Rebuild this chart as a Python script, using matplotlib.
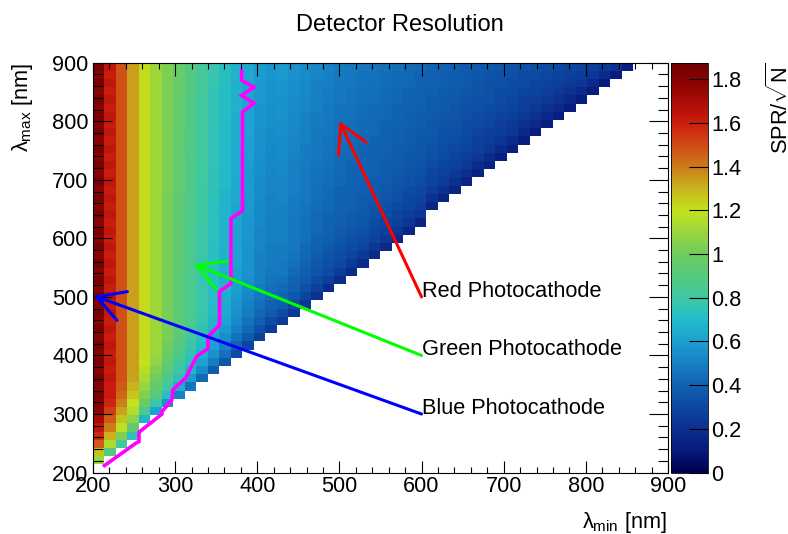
import numpy as np
import matplotlib
matplotlib.use('Agg')
import matplotlib.pyplot as plt
from matplotlib.colors import LinearSegmentedColormap
from matplotlib.ticker import MultipleLocator, FuncFormatter

plt.rcParams['font.family'] = ['Liberation Sans', 'DejaVu Sans']
plt.rcParams['mathtext.fontset'] = 'custom'
plt.rcParams['mathtext.rm'] = 'Liberation Sans'
plt.rcParams['mathtext.it'] = 'Liberation Sans'
plt.rcParams['mathtext.bf'] = 'Liberation Sans:bold'

# Binning (nm): 50 x 50 bins of 14 nm between 200 and 900
bin_edges = np.arange(200, 901, 14)

# SPR/sqrt(N) x 100, one list per lambda_min bin, from the top row (lambda_max = 900) down to the diagonal
spr_columns = [
    [184, 179, 184, 179, 184, 179, 184, 179, 184, 179, 184, 179, 184, 179, 184, 179, 184, 179, 184, 179, 184,
     179, 184, 179, 184, 179, 184, 179, 184, 179, 184, 179, 184, 179, 184, 179, 184, 179, 184, 179, 184,
     180, 177, 171, 164, 157, 146, 127, 110],
    [164, 161, 164, 161, 164, 161, 164, 161, 164, 161, 164, 161, 164, 161, 164, 161, 164, 161, 164, 161,
     164, 161, 164, 161, 164, 161, 164, 161, 164, 161, 164, 161, 164, 161, 164, 161, 164, 161, 164, 161,
     161, 158, 153, 147, 140, 130, 114, 90],
    [148, 148, 148, 148, 148, 148, 148, 148, 148, 148, 148, 148, 148, 148, 148, 148, 148, 148, 148, 148,
     148, 148, 148, 148, 148, 148, 148, 148, 148, 148, 148, 148, 148, 148, 148, 148, 148, 148, 148,
     147, 144, 139, 133, 127, 118, 104, 81],
    [134, 134, 134, 134, 134, 134, 134, 134, 134, 134, 134, 134, 134, 134, 134, 134, 134, 134, 134, 134,
     134, 134, 134, 134, 134, 134, 134, 134, 134, 134, 134, 134, 134, 134, 134, 134, 134, 134,
     133, 130, 126, 120, 115, 107, 94, 74],
    [121, 121, 121, 121, 121, 121, 121, 121, 121, 121, 121, 121, 121, 121, 121, 121, 121, 121, 121, 121,
     121, 121, 121, 121, 121, 121, 121, 121, 121, 121, 121, 121, 121, 121, 121, 121,
     120, 117, 114, 109, 104, 97, 85, 67],
    [111, 111, 111, 111, 111, 111, 111, 111, 111, 111, 111, 111, 111, 111, 111, 111, 111, 111, 111, 111,
     111, 111, 111, 111, 111, 111, 111, 111, 111, 111, 111, 111, 111, 111, 111,
     110, 108, 104, 100, 95, 89, 78, 61],
    [103, 103, 103, 103, 103, 103, 103, 103, 103, 103, 103, 103, 103, 103, 103, 103,
     102, 102, 102, 102, 102, 102, 102, 102, 102, 102, 102, 102, 102, 102, 102, 102, 102, 102,
     100, 98, 95, 91, 87, 81, 71, 56],
    [96, 96, 96, 96, 96, 96, 96, 96, 95, 95, 95, 95, 95, 95, 95, 95, 94, 94, 94, 94, 94, 94, 94, 94, 94,
     93, 93, 93, 93, 93, 93, 93, 93, 92, 90, 87, 83, 79, 74, 65, 51],
    [89, 89, 89, 89, 88, 88, 88, 88, 88, 88, 88, 87, 87, 87, 87, 87, 87, 87, 87, 86, 86, 86, 86, 86, 86, 86,
     85, 85, 85, 85, 85, 85, 84, 82, 79, 76, 72, 67, 59, 46],
    [83, 83, 83, 82, 82, 82, 82, 82, 82, 81, 81, 81, 81, 81, 81, 80, 80, 80, 80, 80, 79, 79, 79, 79, 79, 79,
     78, 78, 78, 78, 78, 77, 75, 73, 69, 66, 61, 54, 42],
    [77, 77, 77, 76, 76, 76, 76, 76, 75, 75, 75, 75, 75, 74, 74, 74, 74, 73, 73, 73, 73, 73, 72, 72, 72, 72,
     72, 71, 71, 71, 70, 68, 66, 63, 60, 56, 49, 38],
    [72, 72, 72, 71, 71, 71, 71, 70, 70, 70, 70, 69, 69, 69, 69, 68, 68, 68, 68, 67, 67, 67, 67, 66, 66, 66,
     66, 66, 65, 64, 63, 61, 58, 55, 51, 45, 35],
    [67, 67, 66, 66, 66, 66, 65, 65, 65, 65, 64, 64, 64, 64, 63, 63, 63, 62, 62, 62, 62, 61, 61, 61, 61, 60,
     60, 60, 59, 57, 55, 53, 50, 46, 41, 32],
    [63, 63, 62, 62, 62, 62, 61, 61, 61, 60, 60, 60, 59, 59, 59, 59, 58, 58, 58, 57, 57, 57, 56, 56, 56, 56,
     55, 54, 53, 51, 49, 46, 43, 37, 29],
    [59, 59, 58, 58, 58, 57, 57, 57, 56, 56, 56, 55, 55, 55, 54, 54, 54, 53, 53, 53, 52, 52, 52, 51, 51, 51,
     50, 49, 47, 45, 42, 39, 34, 27],
    [57, 57, 56, 56, 56, 55, 55, 55, 54, 54, 53, 53, 53, 52, 52, 52, 51, 51, 51, 50, 50, 50, 49, 49, 49,
     48, 46, 45, 42, 40, 37, 32, 25],
    [58, 58, 57, 57, 56, 56, 56, 55, 55, 54, 54, 54, 53, 53, 52, 52, 52, 51, 51, 50, 50, 50, 49, 49,
     48, 47, 45, 43, 41, 38, 32, 25],
    [56, 56, 55, 55, 54, 54, 53, 53, 53, 52, 52, 51, 51, 50, 50, 50, 49, 49, 48, 48, 47, 47, 47,
     46, 45, 43, 41, 39, 36, 30, 23],
    [54, 54, 53, 53, 52, 52, 51, 51, 50, 50, 49, 49, 49, 48, 48, 47, 47, 46, 46, 45, 45, 45,
     43, 42, 41, 39, 37, 34, 29, 22],
    [52, 52, 51, 51, 50, 50, 49, 49, 48, 48, 47, 47, 46, 46, 45, 45, 44, 44, 43, 43, 43,
     41, 40, 38, 36, 35, 32, 27, 20],
    [51, 50, 50, 49, 49, 48, 48, 47, 47, 46, 46, 45, 45, 44, 44, 43, 43, 42, 41, 41,
     40, 39, 37, 35, 33, 31, 26, 19],
    [49, 48, 48, 47, 47, 46, 46, 45, 45, 44, 44, 43, 43, 42, 42, 41, 40, 40, 39,
     39, 37, 36, 34, 32, 30, 25, 19],
    [48, 47, 47, 46, 46, 45, 45, 44, 44, 43, 43, 42, 41, 41, 40, 40, 39, 39,
     38, 37, 35, 33, 31, 29, 24, 18],
    [47, 46, 46, 45, 45, 44, 44, 43, 43, 42, 41, 41, 40, 40, 39, 39, 38,
     37, 36, 35, 33, 31, 29, 24, 18],
    [46, 45, 45, 44, 44, 43, 43, 42, 42, 41, 40, 40, 39, 39, 38, 38,
     37, 35, 34, 32, 30, 28, 23, 18],
    [45, 44, 44, 43, 43, 42, 42, 41, 40, 40, 39, 39, 38, 38, 37,
     36, 35, 33, 32, 30, 27, 23, 17],
    [44, 43, 43, 42, 42, 41, 41, 40, 39, 39, 38, 38, 37, 36,
     35, 34, 33, 31, 29, 27, 23, 17],
    [43, 42, 42, 41, 41, 40, 39, 39, 38, 38, 37, 36, 36,
     35, 34, 32, 30, 29, 26, 22, 16],
    [42, 41, 41, 40, 40, 39, 38, 38, 37, 36, 36, 35,
     34, 33, 32, 30, 28, 26, 22, 16],
    [41, 40, 40, 39, 38, 38, 37, 36, 36, 35, 34, 33, 31, 29, 28, 25, 21, 16],
    [40, 39, 39, 38, 37, 37, 36, 35, 34, 33, 32, 31, 29, 27, 25, 21, 15],
    [39, 38, 38, 37, 36, 35, 35, 34, 33, 32, 30, 28, 27, 24, 20, 15],
    [38, 37, 37, 36, 35, 34, 34, 32, 31, 30, 28, 26, 24, 20, 14],
    [37, 36, 35, 35, 34, 33, 32, 31, 29, 27, 26, 23, 19, 14],
    [36, 35, 34, 34, 33, 32, 30, 29, 27, 25, 23, 19, 14],
    [35, 34, 33, 32, 31, 30, 28, 26, 25, 22, 18, 13],
    [34, 33, 32, 31, 29, 28, 26, 24, 22, 18, 13],
    [33, 32, 31, 29, 27, 26, 24, 21, 17, 13],
    [32, 31, 29, 28, 26, 24, 21, 17, 12],
    [32, 30, 28, 26, 24, 21, 17, 12],
    [31, 28, 26, 24, 21, 17, 12],
    [29, 27, 24, 21, 17, 12],
    [28, 25, 22, 17, 12],
    [26, 22, 17, 11],
    [24, 18, 11],
    [20, 11],
    [13],
]

# Magenta boundary line (nm)
boundary_min = [214, 253, 256, 256, 284, 284, 296, 297, 313, 326, 340, 340, 354, 354, 368, 368,
                382, 382, 396, 381, 396, 381, 381]
boundary_max = [212, 251, 253, 269, 300, 304, 324, 341, 362, 398, 412, 432, 452, 509, 523, 634,
                647, 816, 831, 844, 858, 870, 886]

# Photocathode arrows: label anchor (tail) and tip, in nm
cathode_names = ['Red Photocathode', 'Green Photocathode', 'Blue Photocathode']
cathode_colors = ['#ff0000', '#00ff00', '#0000ff']
cathode_tail = [(600, 500), (600, 400), (600, 300)]
cathode_tip = [(500, 800), (323, 556), (201, 502)]

# Palette
palette = [(0.00, '#000050'), (0.10, '#061a7c'), (0.20, '#0c3090'), (0.30, '#0c48a2'),
           (0.40, '#1062b2'), (0.50, '#1680c4'), (0.60, '#1ca0d2'), (0.70, '#24bcc8'),
           (0.80, '#3ec8a2'), (0.90, '#56c97e'), (1.00, '#70cc5c'), (1.10, '#9ad63e'),
           (1.20, '#c4e21c'), (1.30, '#c8b41e'), (1.40, '#cc7c1a'), (1.50, '#d04a14'),
           (1.60, '#cc1e0e'), (1.70, '#aa0c06'), (1.80, '#860202'), (1.875, '#700000')]
zmax = 1.875

################################################################

nb = len(bin_edges) - 1
grid = np.full((nb, nb), np.nan)
for ix, col in enumerate(spr_columns):
    for p, v in enumerate(col):
        grid[nb - 1 - p, ix] = v / 100.
grid = np.ma.masked_invalid(grid)

cmap = LinearSegmentedColormap.from_list('root', [(v / zmax, c) for v, c in palette], N=256)

fig = plt.figure(figsize=(7.88, 5.34), dpi=100)
ax = fig.add_axes([0.1180, 0.1150, 0.7297, 0.7676])
cax = fig.add_axes([0.8511, 0.1150, 0.0477, 0.7676])

mesh = ax.pcolormesh(bin_edges, bin_edges, grid, cmap=cmap, vmin=0, vmax=zmax,
                     shading='flat', antialiased=False, edgecolors='none')

ax.plot(boundary_min, boundary_max, color='#ff00ff', lw=2.6, solid_joinstyle='miter', zorder=3)

for name, col, tail, tip in zip(cathode_names, cathode_colors, cathode_tail, cathode_tip):
    ax.annotate('', xy=tip, xytext=tail,
                arrowprops=dict(arrowstyle='->,head_length=1.95,head_width=1.1', color=col, lw=2.2,
                                shrinkA=0, shrinkB=0, mutation_scale=10), zorder=4)
    ax.text(tail[0], tail[1], name, fontsize=15.7, ha='left', va='baseline', zorder=5)

ax.set_xlim(200, 900)
ax.set_ylim(200, 900)
ax.xaxis.set_major_locator(MultipleLocator(100))
ax.xaxis.set_minor_locator(MultipleLocator(20))
ax.yaxis.set_major_locator(MultipleLocator(100))
ax.yaxis.set_minor_locator(MultipleLocator(20))
ax.tick_params(axis='both', which='both', direction='in', top=True, right=True, width=0.8, labelsize=15.7)
ax.tick_params(axis='x', which='major', length=9, pad=2.5)
ax.tick_params(axis='x', which='minor', length=4.5)
ax.tick_params(axis='y', which='major', length=13.7, pad=3.2)
ax.tick_params(axis='y', which='minor', length=7.2)
for sp in ax.spines.values():
    sp.set_linewidth(0.8)

cb = fig.colorbar(mesh, cax=cax)
cb.set_ticks(np.arange(0, 1.81, 0.2))
cb.ax.yaxis.set_major_formatter(FuncFormatter(lambda v, pos: f'{v:g}'))
cb.minorticks_off()
cb.outline.set_linewidth(0.6)
cax.tick_params(direction='in', length=13.7, width=0.8, labelsize=15.7, pad=2.4)

fig.text(0.5076, 1 - 25 / 534, 'Detector Resolution', fontsize=17, ha='center', va='center')
fig.text(667 / 788, 1 - 528 / 534, r'$\lambda_{\mathrm{min}}$ [nm]', fontsize=15.7, ha='right', va='baseline')
fig.text(22.5 / 788, 1 - 63 / 534, r'$\lambda_{\mathrm{max}}$ [nm]', fontsize=15.7, rotation=90,
         ha='center', va='top')
fig.text(779.5 / 788, 1 - 62.7 / 534, r'SPR/$\sqrt{N}$', fontsize=15.7, rotation=90, ha='center', va='top')

fig.savefig('out.png', dpi=100)
